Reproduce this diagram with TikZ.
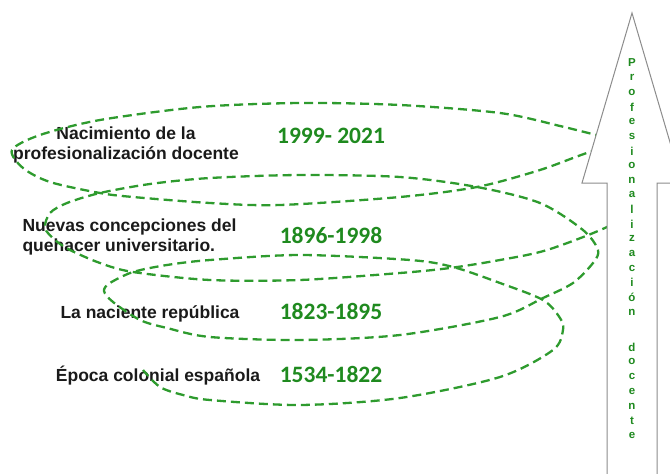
\documentclass[tikz,border=0pt]{standalone}
\usepackage{fontspec}
\setmainfont{Liberation Sans}
\newfontfamily\yearfont{Carlito}
\definecolor{SpiralGreen}{HTML}{2E9B2E}
\definecolor{YearGreen}{HTML}{1F8A1F}
\definecolor{ArrowGray}{HTML}{8C8C8C}
\definecolor{StageInk}{HTML}{1A1A1A}

\begin{document}
\begin{tikzpicture}[x=1pt,y=-1pt]
  \useasboundingbox (0,0) rectangle (670,474);
  \clip (0,0) rectangle (670,474);
  % stages
  \node[align=center,text=StageInk,font=\fontsize{17.5}{20}\selectfont\bfseries] (nacimiento) at (126,145) {Nacimiento de la\\profesionalización docente};
  \node[anchor=west,align=left,text=StageInk,font=\fontsize{17.5}{20}\selectfont\bfseries] (nuevas) at (19,237) {Nuevas concepciones del\\quehacer universitario.};
  \node[text=StageInk,font=\fontsize{17.5}{20}\selectfont\bfseries] (naciente) at (150,314) {La naciente república};
  \node[text=StageInk,font=\fontsize{17.5}{20}\selectfont\bfseries] (colonial) at (158,376) {Época colonial española};
  % years
  \foreach \y/\periodo/\nombre in {136/{1999- 2021}/p1, 235/{1896-1998}/p2, 311/{1823-1895}/p3, 374/{1534-1822}/p4}
    \node[text=YearGreen,font=\yearfont\fontsize{23.5}{26}\selectfont\bfseries] (\nombre) at (331,\y) {\periodo};
  % spiral
  \draw[SpiralGreen,line width=2.3pt,dash pattern=on 9pt off 5pt] plot[smooth] coordinates {
    (604,137) (560,126) (500,113) (400,105) (300,103) (200,107) (100,120) (40,135) (12,150)
    (23,168) (50,182) (100,193) (133,197) (210,203) (280,205) (400,197) (477,187) (540,170) (590,152)
    (625,145) (645,170) (640,205) (607,227)
    (547,250) (500,260) (450,268) (400,273) (300,280) (210,280) (133,272) (100,263) (70,250) (55,240)
    (45,228) (50,213) (67,203) (100,193) (150,184) (210,178) (300,175) (400,177) (477,187) (540,203)
    (583,230) (598,250) (593,263) (573,283) (543,298) (500,317) (400,335) (300,340) (210,337)
    (167,328) (140,320) (113,302) (104,291) (110,283) (133,272) (167,265) (210,260) (300,255)
    (410,260) (453,267) (500,283) (543,300) (560,318) (563,330) (553,350) (500,377) (400,398)
    (300,405) (210,400) (183,395) (160,387) (143,370)};
  % arrow
  \draw[ArrowGray,fill=white,line width=1pt] (607,480) -- (607,183) -- (582,183) -- (632,13)
    -- (682,183) -- (657,183) -- (657,480) -- cycle;
  % vertical label
  \foreach \l [count=\i] in {P,r,o,f,e,s,i,o,n,a,l,i,z,a,c,i,ó,n}
    \node[text=YearGreen,font=\fontsize{11.5}{12}\selectfont\bfseries] (prof\i) at (632,{63+(\i-1)*14.65}) {\l};
  \foreach \l [count=\i] in {d,o,c,e,n,t,e}
    \node[text=YearGreen,font=\fontsize{11.5}{12}\selectfont\bfseries] (doc\i) at (632,{347+(\i-1)*14.8}) {\l};
\end{tikzpicture}
\end{document}
